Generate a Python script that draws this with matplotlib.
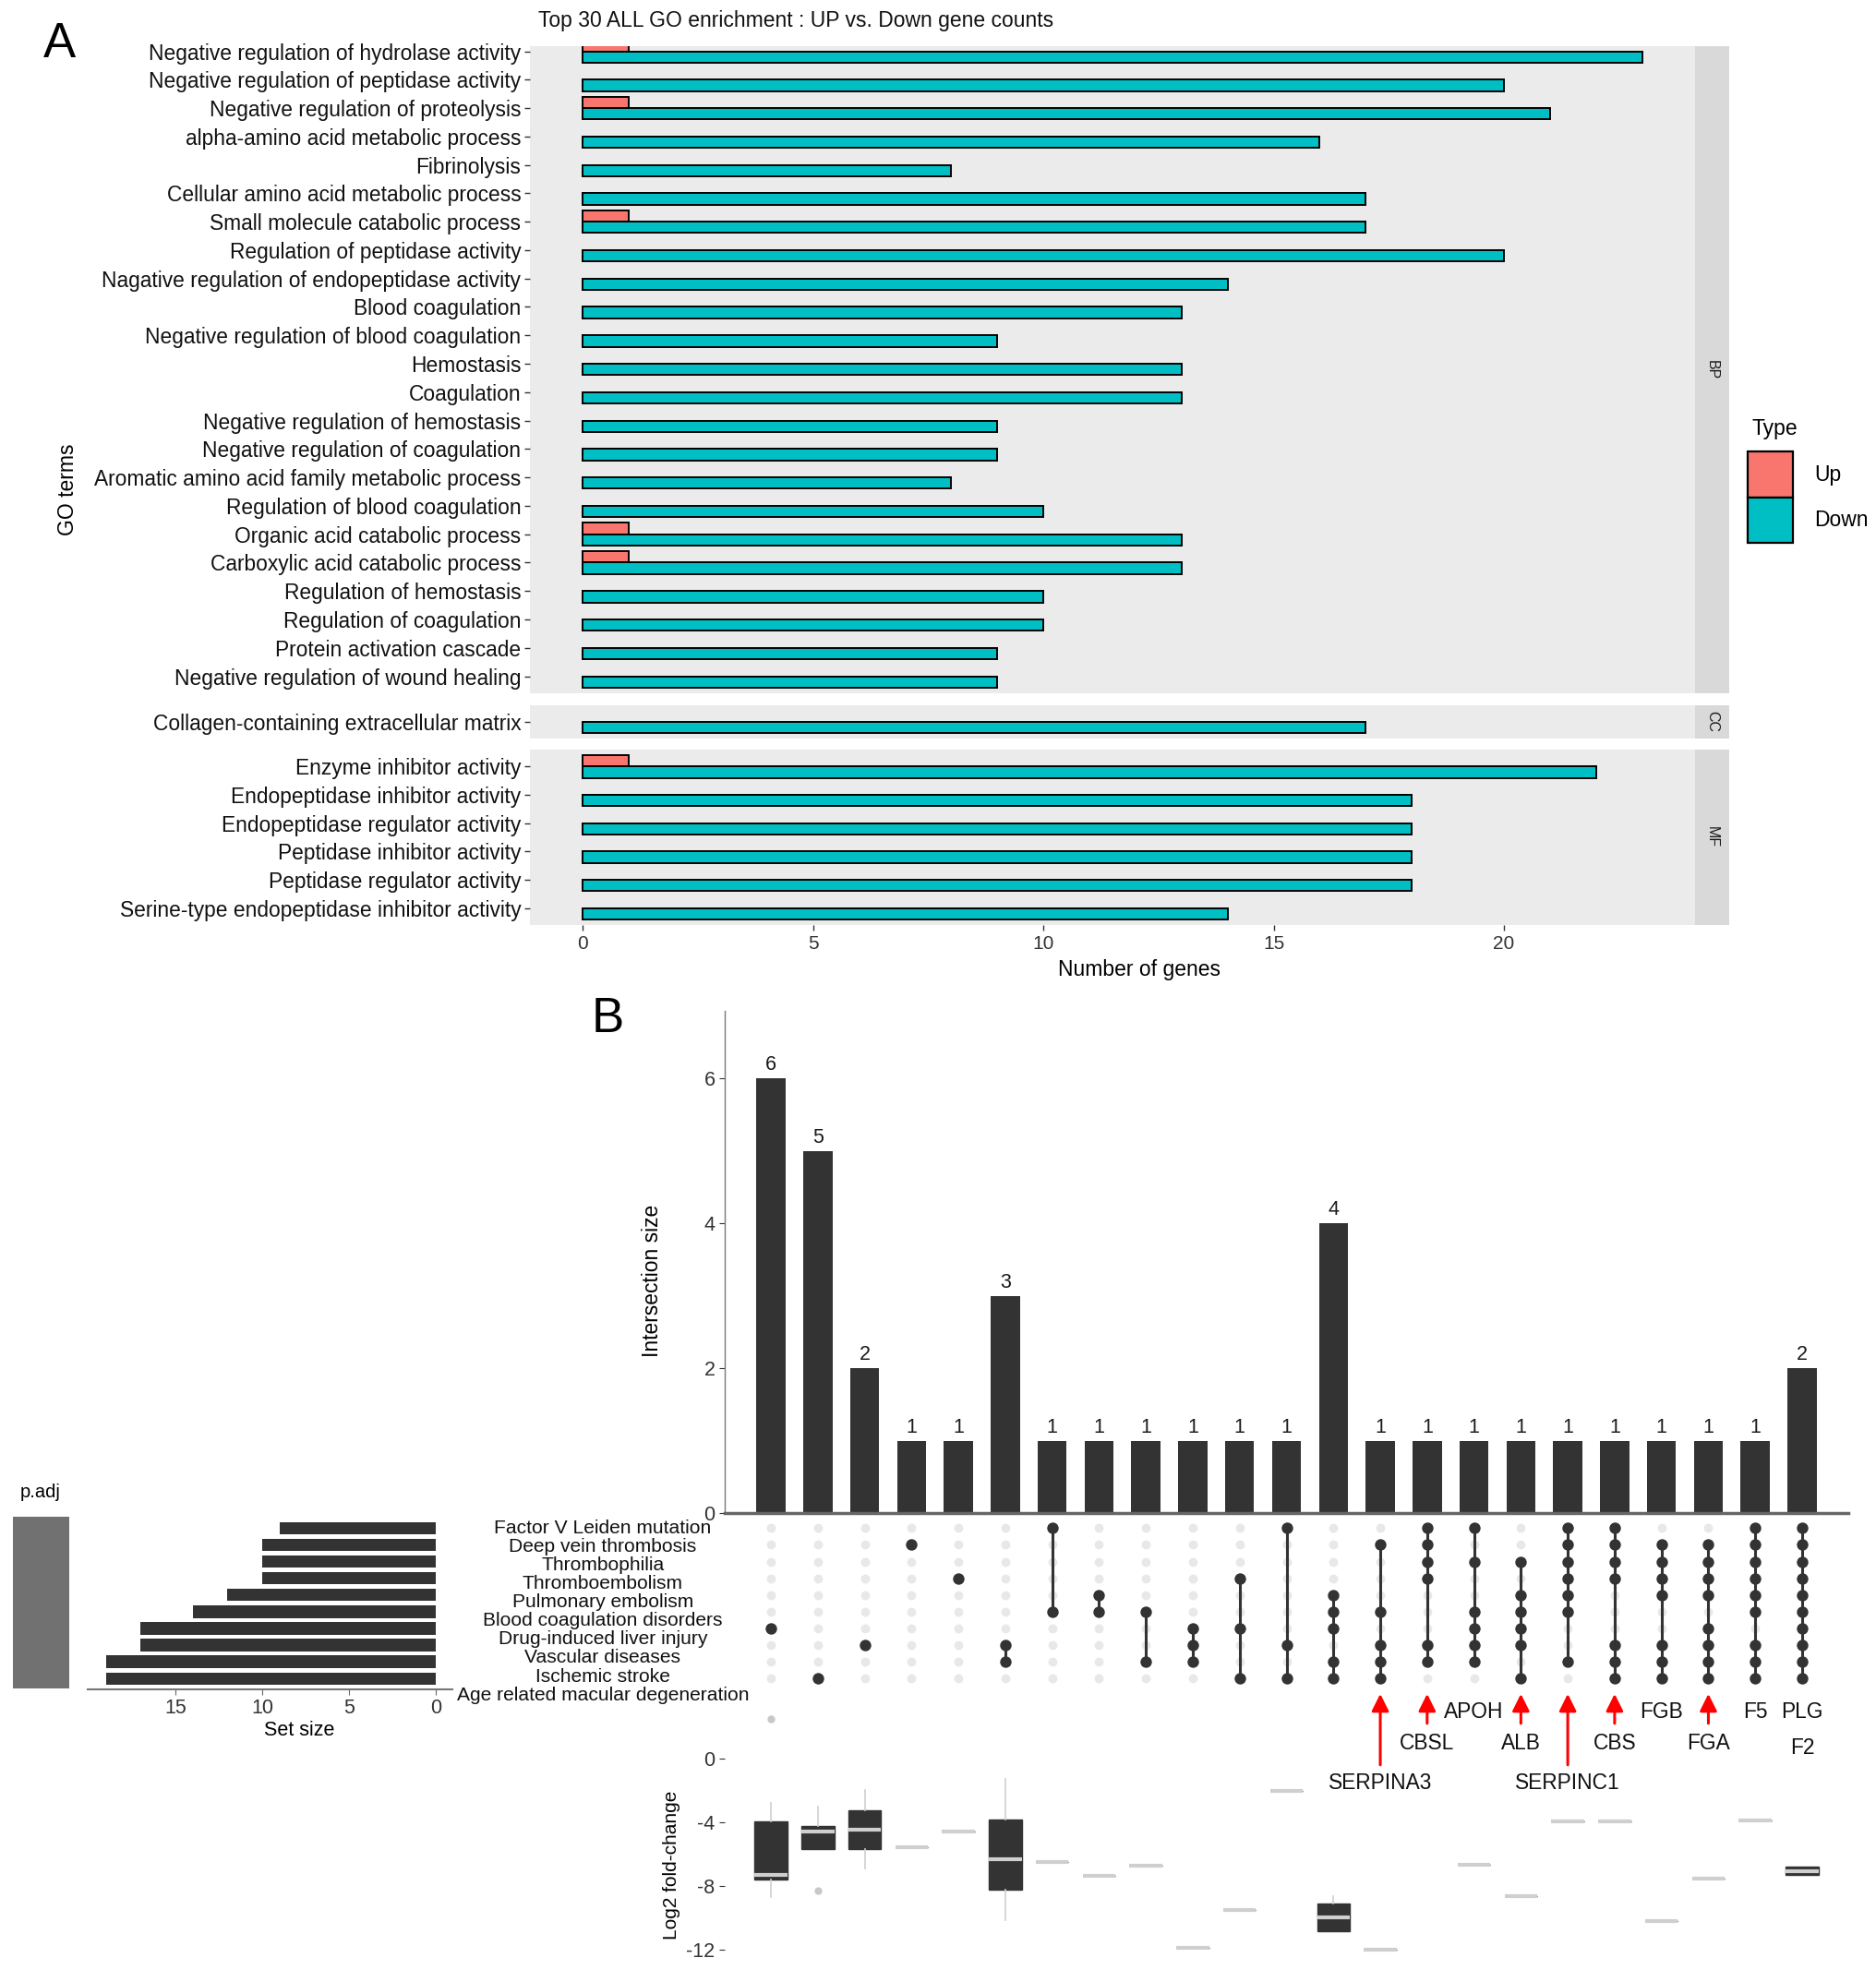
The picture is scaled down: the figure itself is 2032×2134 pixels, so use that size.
import numpy as np
import matplotlib
matplotlib.use("Agg")
import matplotlib.pyplot as plt
import matplotlib.transforms as mtransforms
from matplotlib.patches import Patch

plt.rcParams['font.family'] = ['Liberation Sans', 'DejaVu Sans']
plt.rcParams['axes.unicode_minus'] = False

# ---------------- data: panel A (GO enrichment) ----------------
bp_terms = [
    "Negative regulation of hydrolase activity",
    "Negative regulation of peptidase activity",
    "Negative regulation of proteolysis",
    "alpha-amino acid metabolic process",
    "Fibrinolysis",
    "Cellular amino acid metabolic process",
    "Small molecule catabolic process",
    "Regulation of peptidase activity",
    "Nagative regulation of endopeptidase activity",
    "Blood coagulation",
    "Negative regulation of blood coagulation",
    "Hemostasis",
    "Coagulation",
    "Negative regulation of hemostasis",
    "Negative regulation of coagulation",
    "Aromatic amino acid family metabolic process",
    "Regulation of blood coagulation",
    "Organic acid catabolic process",
    "Carboxylic acid catabolic process",
    "Regulation of hemostasis",
    "Regulation of coagulation",
    "Protein activation cascade",
    "Negative regulation of wound healing",
]
bp_down = [23, 20, 21, 16, 8, 17, 17, 20, 14, 13, 9, 13, 13, 9, 9, 8, 10, 13, 13, 10, 10, 9, 9]
bp_up = [1, 0, 1, 0, 0, 0, 1, 0, 0, 0, 0, 0, 0, 0, 0, 0, 0, 1, 1, 0, 0, 0, 0]

cc_terms = ["Collagen-containing extracellular matrix"]
cc_down = [17]
cc_up = [0]

mf_terms = [
    "Enzyme inhibitor activity",
    "Endopeptidase inhibitor activity",
    "Endopeptidase regulator activity",
    "Peptidase inhibitor activity",
    "Peptidase regulator activity",
    "Serine-type endopeptidase inhibitor activity",
]
mf_down = [22, 18, 18, 18, 18, 14]
mf_up = [1, 0, 0, 0, 0, 0]

# ---------------- data: panel B (UpSet) ----------------
set_names = [
    "Factor V Leiden mutation",
    "Deep vein thrombosis",
    "Thrombophilia",
    "Thromboembolism",
    "Pulmonary embolism",
    "Blood coagulation disorders",
    "Drug-induced liver injury",
    "Vascular diseases",
    "Ischemic stroke",
    "Age related macular degeneration",
]
set_sizes = [9, 10, 10, 10, 12, 14, 17, 17, 19, 19]
p_adj = [0.6] * 10

inter_sizes = [6, 5, 2, 1, 1, 3, 1, 1, 1, 1, 1, 1, 4, 1, 1, 1, 1, 1, 1, 1, 1, 1, 2]
# rows (0 = top set) that belong to each intersection
inter_members = [
    [6], [9], [7], [1], [3], [7, 8], [0, 5], [4, 5], [5, 8], [6, 7, 8],
    [3, 6, 9], [0, 7, 9], [4, 5, 6, 8, 9], [1, 5, 7, 8, 9],
    [0, 1, 2, 3, 7, 8], [0, 2, 5, 6, 7, 8], [2, 4, 5, 6, 7, 9],
    [0, 1, 2, 3, 4, 5, 8], [0, 1, 2, 3, 7, 8, 9], [1, 2, 3, 4, 7, 8, 9],
    [1, 2, 3, 4, 6, 7, 8, 9], [0, 1, 2, 3, 4, 5, 7, 8, 9],
    [0, 1, 2, 3, 4, 5, 6, 7, 8, 9],
]

# log2 fold-change box summaries per intersection (None = nothing shown)
lfc_q1 = [-7.6, -5.7, -5.67, -5.54, -4.58, -8.23, -6.46, -7.33, -6.69, -11.88,
          -9.52, -2.04, -10.84, -11.98, None, -6.67, -8.64, -3.94, -3.92, -10.2,
          -7.53, -3.9, -7.27]
lfc_med = [-7.3, -4.58, -4.44, -5.54, -4.58, -6.3, -6.46, -7.33, -6.69, -11.88,
           -9.52, -2.04, -9.97, -11.98, None, -6.67, -8.64, -3.94, -3.92, -10.2,
           -7.53, -3.9, -7.04]
lfc_q3 = [-3.96, -4.25, -3.27, -5.54, -4.58, -3.85, -6.46, -7.33, -6.69, -11.88,
          -9.52, -2.04, -9.06, -11.98, None, -6.67, -8.64, -3.94, -3.92, -10.2,
          -7.53, -3.9, -6.8]
lfc_lo = [-8.7, -5.7, -6.88, -5.54, -4.58, -10.15, -6.46, -7.33, -6.69, -11.88,
          -9.52, -2.04, -10.84, -11.98, None, -6.67, -8.64, -3.94, -3.92, -10.2,
          -7.53, -3.9, -7.27]
lfc_hi = [-2.8, -3.04, -1.98, -5.54, -4.58, -1.3, -6.46, -7.33, -6.69, -11.88,
          -9.52, -2.04, -8.6, -11.98, None, -6.67, -8.64, -3.94, -3.92, -10.2,
          -7.53, -3.9, -6.8]
lfc_out = [[2.5], [-8.27], [], [], [], [], [], [], [], [], [], [], [], [], [],
           [], [], [], [], [], [], [], []]

# highlighted genes under the matrix: (column, name, label level, arrow)
gene_cols = [13, 14, 15, 16, 17, 18, 19, 20, 21, 22, 22]
gene_names = ["SERPINA3", "CBSL", "APOH", "ALB", "SERPINC1", "CBS", "FGB", "FGA", "F5", "PLG", "F2"]
gene_level = [2, 1, 0, 1, 2, 1, 0, 1, 0, 0, 1]
gene_arrow = ["long", "short", None, "short", "long", "short", None, "short", None, None, None]

UP_C = "#F8766D"
DOWN_C = "#00BFC4"
DARK = "#333333"

W, H = 2032, 2134
fig = plt.figure(figsize=(W / 100, H / 100), dpi=100)


def frac(x0, y0, x1, y1):
    # pixel box -> figure fraction rect
    return [x0 / W, 1 - y1 / H, (x1 - x0) / W, (y1 - y0) / H]


# ================= Panel A =================
def facet(rect, strip_rect, terms, up, down, label, top_pad=0.6, show_x=False):
    ax = fig.add_axes(rect)
    y = np.arange(len(terms))
    up = np.array(up)
    m = up > 0
    ax.barh(y[m] - 0.2, up[m], height=0.4, color=UP_C, edgecolor="black", linewidth=1.4)
    ax.barh(y + 0.2, down, height=0.4, color=DOWN_C, edgecolor="black", linewidth=1.4)
    ax.set_xlim(-1.15, 24.15)
    ax.set_ylim(len(terms) - 1 + 0.6, -top_pad)
    ax.set_facecolor("#ebebeb")
    for s in ax.spines.values():
        s.set_visible(False)
    ax.set_yticks(y)
    ax.set_yticklabels(terms, fontsize=16.4, color="#111111")
    ax.tick_params(axis="y", length=4, width=1, color="#333333", pad=3)
    ax.set_xticks([0, 5, 10, 15, 20])
    if show_x:
        ax.tick_params(axis="x", length=4, width=1, color="#333333", labelsize=15,
                       labelcolor="#333333", pad=4)
    else:
        ax.tick_params(axis="x", length=0, labelbottom=False)
    sax = fig.add_axes(strip_rect)
    sax.set_facecolor("#d9d9d9")
    sax.set_xticks([])
    sax.set_yticks([])
    for s in sax.spines.values():
        s.set_visible(False)
    sax.text(0.5, 0.5, label, rotation=-90, ha="center", va="center", fontsize=11.5,
             color="#1a1a1a", transform=sax.transAxes)
    return ax


facet(frac(574, 50, 1836, 751), frac(1836, 50, 1873, 751), bp_terms, bp_up, bp_down, "BP",
      top_pad=0.18)
facet(frac(574, 764, 1836, 800), frac(1836, 764, 1873, 800), cc_terms, cc_up, cc_down, "CC")
facet(frac(574, 812, 1836, 1002), frac(1836, 812, 1873, 1002), mf_terms, mf_up, mf_down, "MF",
      show_x=True)

fig.text(583 / W, 1 - 22 / H, "Top 30 ALL GO enrichment : UP vs. Down gene counts",
         ha="left", va="center", fontsize=16.5, color="#111111")
fig.text(1234 / W, 1 - 1051 / H, "Number of genes", ha="center", va="center", fontsize=16.5)
fig.text(73 / W, 1 - 530 / H, "GO terms", rotation=90, ha="center", va="center", fontsize=16.5)
fig.text(64 / W, 1 - 48 / H, "A", ha="center", va="center", fontsize=38)

fig.text(1922 / W, 1 - 464 / H, "Type", ha="center", va="center", fontsize=16.5)
fig.legend(handles=[Patch(facecolor=UP_C, edgecolor="black", linewidth=1.6, label="Up"),
                    Patch(facecolor=DOWN_C, edgecolor="black", linewidth=1.6, label="Down")],
           loc="upper left", bbox_to_anchor=(1893 / W, 1 - 489 / H),
           frameon=False, fontsize=16.5, handlelength=2.15,
           handleheight=2.95, labelspacing=0.0, handletextpad=1.0, borderpad=0,
           borderaxespad=0)

# ================= Panel B =================
ncol = len(inter_sizes)
xs = np.arange(ncol)
XLIM = (-0.985, ncol - 1 + 0.985)

# intersection size bars
ax_bar = fig.add_axes(frac(785, 1095, 2002, 1639))
ax_bar.bar(xs, inter_sizes, width=0.62, color=DARK)
for x, h in zip(xs, inter_sizes):
    ax_bar.text(x, h + 0.05, str(h), ha="center", va="bottom", fontsize=15.5, color="#1a1a1a")
ax_bar.set_xlim(*XLIM)
ax_bar.set_ylim(0, 6.93)
ax_bar.set_xticks([])
ax_bar.set_yticks([0, 2, 4, 6])
ax_bar.tick_params(axis="y", length=4, labelsize=15.5, labelcolor="#333333", color="#333333")
for k in ["top", "right"]:
    ax_bar.spines[k].set_visible(False)
ax_bar.spines["left"].set_color("#777777")
ax_bar.spines["left"].set_linewidth(1.0)
ax_bar.spines["bottom"].set_color("#666666")
ax_bar.spines["bottom"].set_linewidth(2.5)
ax_bar.set_ylabel("Intersection size", fontsize=16.4)
ax_bar.yaxis.set_label_coords((718 - 785) / 1217, 0.463)
fig.text(658 / W, 1 - 1104 / H, "B", ha="center", va="center", fontsize=38)

# matrix
nset = len(set_names)
YLIM_M = (nset - 1 + 0.65, -0.68)
ax_mat = fig.add_axes(frac(785, 1643, 2002, 1830))
for x, mem in zip(xs, inter_members):
    ax_mat.scatter([x] * nset, np.arange(nset), s=50, color="#e8e8e8", zorder=1, linewidths=0)
    ax_mat.plot([x, x], [min(mem), max(mem)], color=DARK, lw=2.2, zorder=2)
    ax_mat.scatter([x] * len(mem), mem, s=80, color=DARK, zorder=3, linewidths=0)
ax_mat.set_xlim(*XLIM)
ax_mat.set_ylim(*YLIM_M)
ax_mat.axis("off")
lab_tr = mtransforms.blended_transform_factory(fig.transFigure, ax_mat.transData)
for i, name in enumerate(set_names):
    ax_mat.text(653 / W, i * 1.11, name, transform=lab_tr, ha="center", va="center",
                fontsize=15.1, color="#111111")

# set sizes
ax_set = fig.add_axes(frac(95, 1643, 490, 1830))
ax_set.barh(np.arange(nset), set_sizes, height=0.74, color=DARK)
ax_set.set_xlim(20.05, -0.96)
ax_set.set_ylim(*YLIM_M)
ax_set.set_yticks([])
ax_set.set_xticks([15, 10, 5, 0])
ax_set.tick_params(axis="x", length=4, labelsize=15.5, labelcolor="#333333", color="#666666")
for k in ["top", "right", "left"]:
    ax_set.spines[k].set_visible(False)
ax_set.spines["bottom"].set_color("#777777")
ax_set.spines["bottom"].set_linewidth(1.5)
ax_set.set_xlabel("Set size", fontsize=15.5)
ax_set.xaxis.set_label_coords(0.58, -0.18)

# p.adj column
ax_p = fig.add_axes(frac(14, 1643, 75, 1829))
ax_p.pcolormesh(np.array(p_adj).reshape(-1, 1), cmap="Greys", vmin=0, vmax=0.95)
ax_p.set_ylim(nset, 0)
ax_p.axis("off")
fig.text(44 / W, 1 - 1617 / H, "p.adj", ha="center", va="center", fontsize=14.5)

# log2 fold-change boxes
ax_box = fig.add_axes(frac(785, 1853, 2002, 2121))
stats, pos = [], []
for i in range(ncol):
    if lfc_med[i] is None:
        continue
    stats.append(dict(med=lfc_med[i], q1=lfc_q1[i], q3=lfc_q3[i], whislo=lfc_lo[i],
                      whishi=lfc_hi[i], fliers=lfc_out[i]))
    pos.append(xs[i])
ax_box.bxp(stats, positions=pos, widths=0.7, patch_artist=True, showcaps=False,
           boxprops=dict(facecolor=DARK, edgecolor=DARK, linewidth=1.0),
           medianprops=dict(color="#cfcfcf", linewidth=3.0),
           whiskerprops=dict(color="#cfcfcf", linewidth=1.2),
           flierprops=dict(marker="o", markerfacecolor="#c8c8c8", markeredgecolor="none",
                           markersize=6))
ax_box.set_xlim(*XLIM)
ax_box.set_ylim(-12.5, 3.0)
ax_box.set_xticks([])
ax_box.set_yticks([0, -4, -8, -12])
ax_box.tick_params(axis="y", length=4, labelsize=15.5, labelcolor="#333333", color="#333333")
for s in ax_box.spines.values():
    s.set_visible(False)
ax_box.patch.set_alpha(0)
ax_box.set_ylabel("Log2 fold-change", fontsize=15)
ax_box.yaxis.set_label_coords((737 - 785) / 1217, 0.377)

# highlighted genes with red arrows
level_y = [2.9, 0.95, -1.55]
for c, g, lv, ar in zip(gene_cols, gene_names, gene_level, gene_arrow):
    y = level_y[lv] if g != "F2" else 0.68
    ax_box.text(c, y, g, ha="center", va="center", fontsize=16.4, color="#111111", clip_on=False)
    if ar is not None:
        tail = 2.2 if ar == "short" else -0.4
        ax_box.annotate("", xy=(c, 4.05), xytext=(c, tail), annotation_clip=False,
                        arrowprops=dict(arrowstyle="-|>", color="red", lw=2.2,
                                        mutation_scale=28, shrinkA=0, shrinkB=0))

fig.savefig("out.png", dpi=100)
